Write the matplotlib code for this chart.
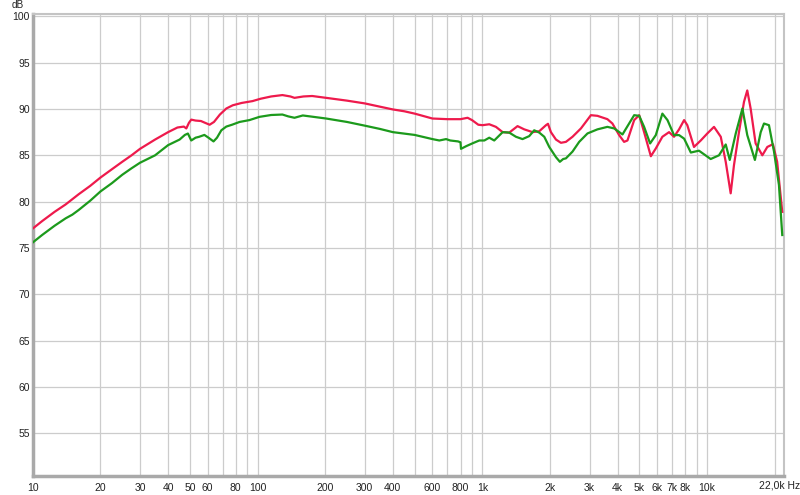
import matplotlib
matplotlib.use("Agg")
import matplotlib.pyplot as plt
from matplotlib.ticker import FixedLocator, NullFormatter

plt.rcParams["font.family"] = ["Liberation Sans", "DejaVu Sans"]

# frequency response (Hz, dB)
red_freq = [10, 11, 12.5, 14, 16, 18, 20, 22.5, 25, 27.5, 30, 35, 40, 44, 47, 48.2, 49.5,
            50.7, 53, 56, 58.5, 61.2, 64, 68, 72.6, 77.6, 85, 95, 103, 115, 129, 140, 146,
            160, 175, 202, 250, 300, 350, 400, 450, 500, 600, 700, 800, 860, 900, 960,
            1003, 1074, 1150, 1232, 1318, 1435, 1537, 1674, 1793, 1920, 1960, 2020, 2127,
            2238, 2355, 2520, 2747, 3043, 3253, 3603, 3793, 4063, 4275, 4425, 4740, 4990,
            5248, 5623, 5916, 6328, 6776, 7129, 7508, 7906, 8170, 8750, 9375, 10030,
            10740, 11510, 12110, 12740, 13180, 13870, 14600, 15100, 15630, 16450, 17620,
            18540, 19640, 20510, 21610]
red_db = [77.1, 77.9, 78.9, 79.7, 80.8, 81.7, 82.6, 83.5, 84.3, 85.0, 85.7, 86.7, 87.5,
          88.0, 88.1, 87.9, 88.5, 88.85, 88.75, 88.7, 88.5, 88.3, 88.6, 89.4, 90.05,
          90.4, 90.65, 90.85, 91.1, 91.35, 91.5, 91.35, 91.2, 91.35, 91.4, 91.2, 90.9,
          90.6, 90.25, 89.95, 89.75, 89.5, 88.97, 88.9, 88.9, 89.05, 88.8, 88.3, 88.25,
          88.35, 88.07, 87.5, 87.45, 88.15, 87.8, 87.5, 87.6, 88.25, 88.4, 87.5, 86.7,
          86.35, 86.45, 87.0, 87.9, 89.33, 89.26, 88.9, 88.43, 87.18, 86.45, 86.6, 88.8,
          89.33, 87.5, 84.9, 85.74, 87.0, 87.5, 87.0, 87.8, 88.8, 88.25, 85.9, 86.6,
          87.36, 88.07, 87.0, 84.3, 80.9, 83.95, 87.5, 90.76, 92.0, 90.05, 86.28, 85.0,
          85.9, 86.2, 84.3, 78.9]

green_freq = [10, 11, 12.5, 14, 15, 16, 18, 20, 22.5, 25, 27.5, 30, 35, 40, 45, 47.5, 49,
              50.7, 53, 55, 58, 60.5, 63.7, 66, 69, 72.6, 77, 83.2, 92, 102, 115, 129,
              137, 146, 159, 202, 250, 300, 350, 400, 500, 600, 644, 690, 720, 780, 800,
              804, 850, 906, 937, 970, 1021, 1074, 1130, 1232, 1318, 1412, 1510, 1617,
              1702, 1793, 1887, 1986, 2127, 2214, 2290, 2355, 2520, 2698, 2938, 3253,
              3603, 3863, 4205, 4500, 4740, 4990, 5248, 5580, 5916, 6328, 6668, 7129,
              7508, 7906, 8470, 9204, 10380, 11300, 12110, 12620, 13420, 14370, 15100,
              16330, 17330, 17920, 18860, 19860, 20890, 21610]
green_db = [75.6, 76.4, 77.4, 78.2, 78.6, 79.1, 80.1, 81.1, 82.0, 82.9, 83.6, 84.2, 85.0,
            86.1, 86.7, 87.2, 87.35, 86.6, 86.9, 87.0, 87.2, 86.9, 86.5, 86.9, 87.7, 88.1,
            88.3, 88.6, 88.8, 89.15, 89.35, 89.4, 89.2, 89.05, 89.3, 88.97, 88.6, 88.2,
            87.85, 87.5, 87.2, 86.75, 86.6, 86.75, 86.6, 86.5, 86.4, 85.7, 86.0, 86.3,
            86.45, 86.6, 86.6, 86.9, 86.6, 87.5, 87.45, 87.0, 86.75, 87.07, 87.7, 87.45,
            87.0, 85.9, 84.8, 84.3, 84.6, 84.67, 85.4, 86.45, 87.36, 87.8, 88.07, 87.9,
            87.25, 88.43, 89.33, 89.26, 88.07, 86.28, 87.18, 89.5, 88.8, 87.18, 87.18,
            86.8, 85.3, 85.5, 84.6, 85.0, 86.17, 84.5, 87.36, 90.05, 87.18, 84.5, 87.5,
            88.43, 88.25, 85.4, 81.8, 76.4]

x_ticks = [10, 20, 30, 40, 50, 60, 80, 100, 200, 300, 400, 600, 800, 1000,
           2000, 3000, 4000, 5000, 6000, 7000, 8000, 10000]
x_labels = ["10", "20", "30", "40", "50", "60", "80", "100", "200", "300", "400",
            "600", "800", "1k", "2k", "3k", "4k", "5k", "6k", "7k", "8k", "10k"]
y_ticks = [55, 60, 65, 70, 75, 80, 85, 90, 95, 100]

grid_x = [m * 10 ** e for e in range(1, 5) for m in range(1, 10) if m * 10 ** e <= 20000]

fig = plt.figure(figsize=(8, 4.95), dpi=100)
ax = fig.add_axes([0.041, 0.0384, 0.939, 0.9343])

ax.plot(red_freq, red_db, color="#ee1a4c", lw=1.6, zorder=3)
ax.plot(green_freq, green_db, color="#1c9a1c", lw=1.6, zorder=4)

ax.set_xscale("log")
ax.set_xlim(10, 22000)
ax.set_ylim(50.4, 100.3)

# grid on every decade step
for g in grid_x:
    ax.axvline(g, color="#cccccc", lw=0.9, zorder=1)
for g in y_ticks:
    ax.axhline(g, color="#cccccc", lw=0.9, zorder=1)

ax.xaxis.set_major_locator(FixedLocator(x_ticks))
ax.xaxis.set_minor_formatter(NullFormatter())
ax.xaxis.set_minor_locator(FixedLocator([]))
ax.set_xticklabels(x_labels)
ax.set_yticks(y_ticks)
ax.tick_params(length=0, labelsize=7.5, colors="#222222")
ax.tick_params(axis="x", pad=5)
ax.tick_params(axis="y", pad=2)

for side in ["left", "bottom"]:
    ax.spines[side].set_color("#a9a9a9")
    ax.spines[side].set_linewidth(2.5)
for side in ["top", "right"]:
    ax.spines[side].set_color("#c4c4c4")
    ax.spines[side].set_linewidth(1.5)

fig.text(0.0145, 0.999, "dB", fontsize=7.2, color="#222222", va="top")
fig.text(0.949, 0.0185, "22,0k Hz", fontsize=7.5, color="#222222", va="center")

fig.savefig("out.png", dpi=100)
